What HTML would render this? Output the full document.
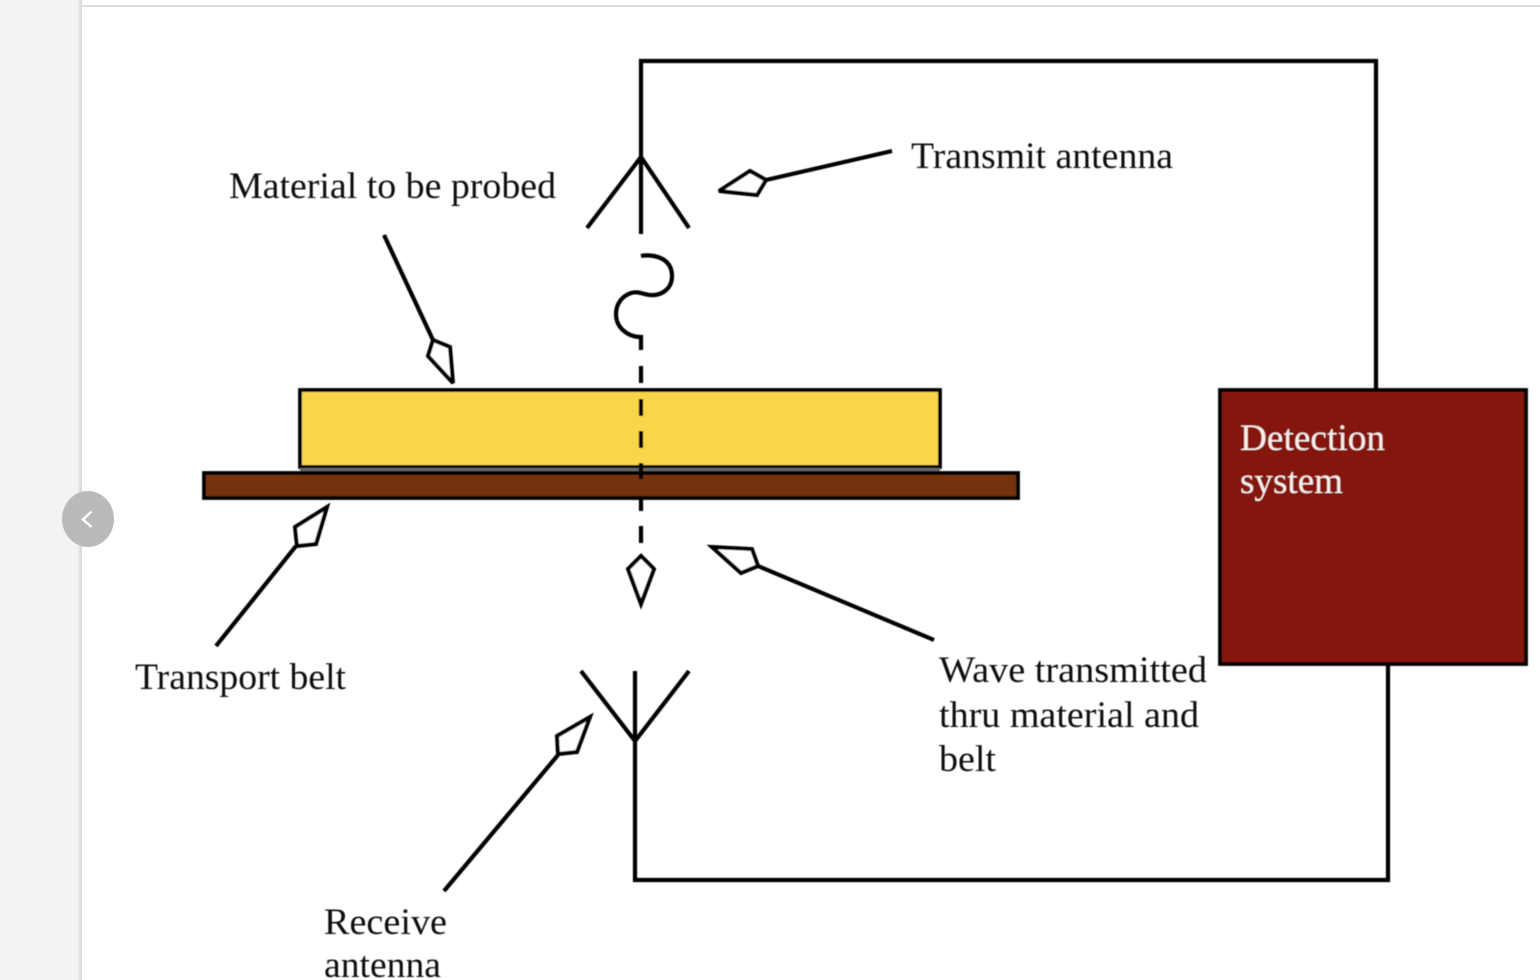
<!DOCTYPE html>
<html>
<head>
<meta charset="utf-8">
<title>Material probing diagram</title>
<style>
html,body{margin:0;padding:0;background:#fff;width:1540px;height:980px;overflow:hidden}
svg{display:block}
text{font-family:"Liberation Serif",serif;font-size:37.5px;fill:#0e0e0e}
.s{fill:none;stroke:#050505;stroke-width:4.2;stroke-linecap:butt;stroke-linejoin:miter}
.h{fill:#fff;stroke:#050505;stroke-width:4;stroke-linejoin:miter;stroke-miterlimit:3}
</style>
</head>
<body>
<svg width="1540" height="980" viewBox="0 0 1540 980" xmlns="http://www.w3.org/2000/svg">
<defs>
<linearGradient id="edge" x1="0" x2="1" y1="0" y2="0"><stop offset="0" stop-color="#f3f3f3"/><stop offset="1" stop-color="#d6d6d6"/></linearGradient>
<filter id="soft" x="-5%" y="-5%" width="110%" height="110%"><feGaussianBlur stdDeviation="0.6"/></filter>
</defs>
<rect x="0" y="0" width="81" height="980" fill="#f3f3f3"/>
<rect x="77" y="0" width="5" height="980" fill="url(#edge)"/>
<rect x="82" y="5" width="1458" height="2" fill="#dcdcdc"/>
<g filter="url(#soft)">
<path class="s" d="M641 234V61H1376V390"/>
<path class="s" d="M635 671V880H1388V664"/>
<path class="s" d="M587 228L641 157L689 228"/>
<path class="s" d="M581 671L635 741L689 671"/>
<path class="s" d="M641 256C650 254 672 256 672 276C672 290 660 296 650 295C642 294 638 291 631 293C622 296 616 304 616 314C616 328 628 337 641 337V350"/>
<rect x="300" y="390" width="640" height="77" fill="#f9d548" stroke="#050505" stroke-width="3.8"/>
<rect x="300" y="468" width="640" height="4" fill="#666"/>
<rect x="204" y="473" width="814" height="25" fill="#743310" stroke="#050505" stroke-width="3.8"/>
<path class="s" d="M641 366V383M641 399V416M641 431V448M641 463V479M641 497V511M641 526V543" stroke-width="4.500"/>
<path class="h" d="M641 604L628 569L641 556L654 569Z"/>
<path class="s" d="M384 235L433 340"/>
<path class="h" d="M453 383L428 356L433 340L450 347Z"/>
<path class="s" d="M892 151L766 180"/>
<path class="h" d="M719 191L750 171L766 180L757 195Z"/>
<path class="s" d="M216 646L296 546"/>
<path class="h" d="M327 507L316 544L297 546L295 527Z"/>
<path class="s" d="M934 640L758 566"/>
<path class="h" d="M712 547L752 549L758 566L741 573Z"/>
<path class="s" d="M444 891L558 755"/>
<path class="h" d="M590 717L577 752L558 754L557 736Z"/>
<rect x="1220" y="390" width="306" height="274" fill="#85170f" stroke="#050505" stroke-width="3.8"/>
<text x="229" y="198" textLength="327" lengthAdjust="spacingAndGlyphs">Material to be probed</text>
<text x="911" y="168" textLength="262" lengthAdjust="spacingAndGlyphs">Transmit antenna</text>
<text x="135" y="689" textLength="211" lengthAdjust="spacingAndGlyphs">Transport belt</text>
<text x="939" y="682" textLength="268" lengthAdjust="spacingAndGlyphs">Wave transmitted</text>
<text x="939" y="727" textLength="260" lengthAdjust="spacingAndGlyphs">thru material and</text>
<text x="939" y="771" textLength="57" lengthAdjust="spacingAndGlyphs">belt</text>
<text x="324" y="934" textLength="123" lengthAdjust="spacingAndGlyphs">Receive</text>
<text x="324" y="977" textLength="117" lengthAdjust="spacingAndGlyphs">antenna</text>
<text x="1240" y="450" textLength="145" lengthAdjust="spacingAndGlyphs" style="fill:#f7eeeb">Detection</text>
<text x="1240" y="493" textLength="103" lengthAdjust="spacingAndGlyphs" style="fill:#f7eeeb">system</text>
</g>
<g>
<ellipse cx="88" cy="519" rx="26" ry="28" fill="#bababa"/>
<path d="M91.500 511.500L83 519.500L91.500 527" fill="none" stroke="#fff" stroke-width="2.400"/>
</g>
</svg>
</body>
</html>
